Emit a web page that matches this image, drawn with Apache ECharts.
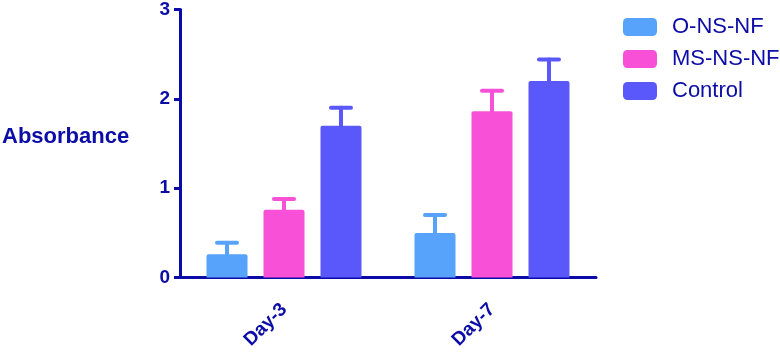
<!DOCTYPE html>
<html>
<head>
<meta charset="utf-8">
<script src="https://cdn.jsdelivr.net/npm/echarts@6/dist/echarts.min.js"></script>
<style>
  html, body { margin: 0; padding: 0; background: #fff; }
  #chart { width: 780px; height: 352px; }
</style>
</head>
<body>
<div id="chart"></div>
<script>
const categories = ['Day-3', 'Day-7'];
const seriesNames = ['O-NS-NF', 'MS-NS-NF', 'Control'];
const oNsNf = [0.26, 0.50];
const oNsNfErr = [0.13, 0.20];
const msNsNf = [0.76, 1.86];
const msNsNfErr = [0.12, 0.23];
const control = [1.70, 2.20];
const controlErr = [0.20, 0.24];
const yTicks = [0, 1, 2, 3];

const colors = ['#57a2fb', '#f851d8', '#5b58fb'];
const axisColor = '#0a0aa6';
const textColor = '#0c0ca6';
const BAR_W = 41;
const BAR_GAP = 0.39;

const values = [oNsNf, msNsNf, control];
const errors = [oNsNfErr, msNsNfErr, controlErr];

const chart = echarts.init(document.getElementById('chart'));

// error bars: only the upper half, with a cap
function errorBar(idx) {
  return function (params, api) {
    const x = api.value(0);
    const v = api.value(1);
    const e = api.value(2);
    const offset = (idx - 1) * BAR_W * (1 + BAR_GAP);
    const base = api.coord([x, v]);
    const top = api.coord([x, v + e]);
    const cx = base[0] + offset;
    const style = { stroke: colors[idx], lineWidth: 4, lineCap: 'round' };
    return {
      type: 'group',
      children: [
        { type: 'line', shape: { x1: cx, y1: base[1], x2: cx, y2: top[1] }, style: style },
        { type: 'line', shape: { x1: cx - 10, y1: top[1], x2: cx + 10, y2: top[1] }, style: style }
      ]
    };
  };
}

const series = [];
values.forEach((vals, i) => {
  series.push({
    name: seriesNames[i],
    type: 'bar',
    barWidth: BAR_W,
    barGap: (BAR_GAP * 100) + '%',
    itemStyle: { color: colors[i], borderRadius: [2, 2, 0, 0] },
    data: vals,
    z: 2
  });
});
values.forEach((vals, i) => {
  series.push({
    type: 'custom',
    renderItem: errorBar(i),
    data: vals.map((v, j) => [j, v, errors[i][j]]),
    z: 1
  });
});

const option = {
  animation: false,
  title: {
    text: 'Absorbance',
    left: 2,
    top: 126,
    padding: 0,
    textStyle: { fontFamily: 'Liberation Sans', fontSize: 22, fontWeight: 'bold', color: textColor }
  },
  legend: {
    data: seriesNames,
    orient: 'vertical',
    left: 623,
    top: 16,
    padding: 0,
    itemWidth: 34,
    itemHeight: 18,
    itemGap: 10,
    icon: 'roundRect',
    textStyle: { fontFamily: 'Liberation Sans', fontSize: 22, lineHeight: 22, color: textColor, padding: [0, 0, 0, 10] }
  },
  grid: { left: 180, right: 184, top: 8, bottom: 69 },
  xAxis: {
    type: 'category',
    data: categories,
    axisLine: { lineStyle: { color: axisColor, width: 3 } },
    axisTick: { alignWithLabel: true, length: 8, lineStyle: { color: axisColor, width: 3 } },
    axisLabel: {
      rotate: 45,
      margin: 29,
      fontFamily: 'Liberation Sans',
      fontSize: 19,
      fontWeight: 'bold',
      color: textColor
    }
  },
  yAxis: {
    type: 'value',
    min: yTicks[0],
    max: yTicks[yTicks.length - 1],
    interval: 1,
    splitLine: { show: false },
    axisLine: { show: true, lineStyle: { color: axisColor, width: 3 } },
    axisTick: { show: true, length: 6, lineStyle: { color: axisColor, width: 3 } },
    axisLabel: {
      margin: 10,
      fontFamily: 'Liberation Sans',
      fontSize: 19,
      fontWeight: 'bold',
      color: textColor
    }
  },
  series: series
};
chart.setOption(option);
</script>
</body>
</html>
